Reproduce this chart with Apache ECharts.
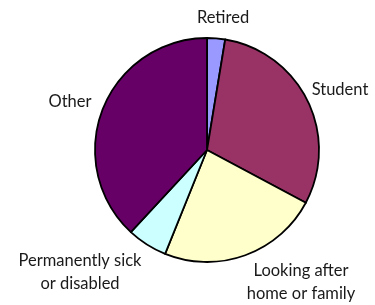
<!DOCTYPE html>
<html><head><meta charset="utf-8">
<script src="https://cdn.jsdelivr.net/npm/echarts@6/dist/echarts.min.js"></script>
<style>html,body{margin:0;padding:0;background:#fff}#c{width:375px;height:305px}</style>
</head><body><div id="c"></div>
<script>
var categories = ['Retired', 'Student', 'Looking after\nhome or family', 'Permanently sick\nor disabled', 'Other'];
var values = [2.6, 30.2, 23.3, 5.8, 38.1];
var colors = ['#9999FF', '#993366', '#FFFFCC', '#CCFFFF', '#660066'];
var labelPos = [[223, 18], [340, 90], [301, 282], [80, 272], [70, 102]];

var chart = echarts.init(document.getElementById('c'), null, {renderer: 'canvas'});
chart.setOption({
  animation: false,
  series: [{
    type: 'pie',
    center: [207, 150],
    radius: 112,
    startAngle: 90,
    clockwise: true,
    avoidLabelOverlap: false,
    itemStyle: {borderColor: '#000', borderWidth: 1.8},
    label: {
      show: true, position: 'outside', color: '#1a1a1a',
      fontFamily: 'Lato', fontSize: 16.5, lineHeight: 23, align: 'center'
    },
    labelLine: {show: false},
    labelLayout: function (p) {
      var q = labelPos[p.dataIndex];
      return {x: q[0], y: q[1], align: 'center', verticalAlign: 'middle'};
    },
    emphasis: {disabled: true},
    data: categories.map(function (c, i) {
      return {name: c, value: values[i], itemStyle: {color: colors[i]}};
    })
  }]
});
</script></body></html>
